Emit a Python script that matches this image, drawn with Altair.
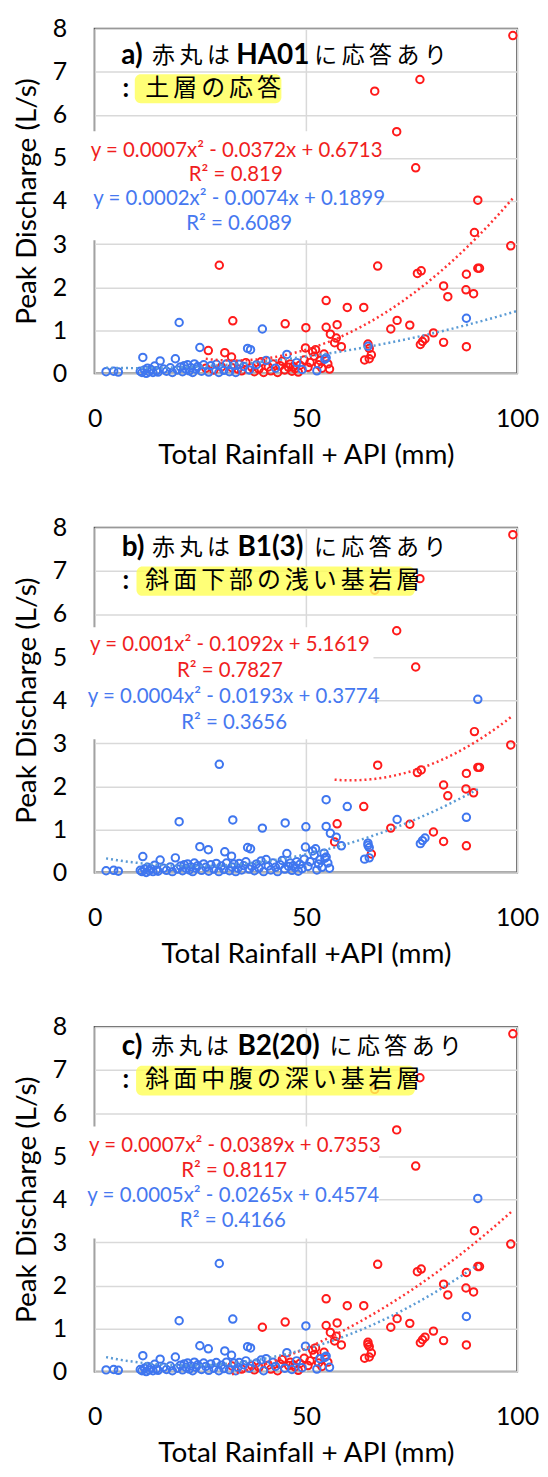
import altair as alt
import pandas as pd

# ---------------- data ----------------
X = [29.5, 32.7, 20.0, 39.7, 45.1, 50.0, 54.8, 54.8, 55.8, 57.4, 57.2, 56.8, 58.4, 59.8, 63.7, 67.0,
     64.7, 64.7, 65.0, 65.5, 63.9, 65.0, 70.1, 71.6, 74.6, 76.4, 77.3, 77.1, 77.6, 78.2, 80.2, 82.6,
     83.6, 82.6, 88.0, 87.9, 89.7, 90.7, 91.1, 88.0, 88.0, 89.9, 98.5, 99.0, 77.0, 66.3, 71.5, 76.0, 90.7,
     2.7, 4.5, 5.6, 10.8, 11.2, 11.4, 11.8, 12.2, 12.5, 12.9, 13.3, 13.8, 14.2, 14.6, 15.0, 15.5, 16.3,
     17.0, 17.9, 18.4, 19.1, 19.6, 20.3, 20.8, 21.2, 21.6, 22.0, 22.4, 22.8, 23.2, 23.6, 24.0, 24.4, 24.9,
     25.3, 25.8, 26.3, 26.9, 27.0, 27.5, 28.2, 28.8, 29.4, 30.0, 30.6, 30.8, 31.2, 31.9, 32.4, 32.5, 33.0,
     33.4, 33.9, 34.2, 34.8, 35.3, 35.8, 36.2, 36.9, 36.6, 37.2, 37.8, 38.3, 38.9, 39.4, 40.0, 40.6, 41.1,
     41.7, 42.2, 42.8, 43.3, 43.9, 44.4, 45.0, 45.5, 45.9, 46.3, 46.7, 47.0, 47.4, 47.8, 48.2, 48.6, 49.1,
     49.6, 49.9, 50.5, 51.0, 51.6, 52.0, 52.3, 52.6, 53.0, 53.3, 53.8, 54.3, 54.5, 54.8, 55.2, 55.6]
Y = [2.51, 1.22, 1.18, 1.03, 1.15, 1.06, 1.69, 1.07, 0.91, 1.13, 0.82, 0.71, 0.62, 1.53, 1.53, 2.49,
     0.68, 0.63, 0.58, 0.43, 0.31, 0.34, 1.03, 1.23, 1.12, 2.32, 2.38, 0.67, 0.74, 0.80, 0.94, 2.03,
     1.78, 0.72, 2.30, 1.94, 1.85, 2.44, 2.44, 0.62, 1.28, 3.27, 2.96, 7.84, 6.82, 6.55, 5.61, 4.77, 4.02,
     0.04, 0.05, 0.03, 0.05, 0.02, 0.37, 0.08, 0.00, 0.12, 0.04, 0.09, 0.02, 0.17, 0.06, 0.03, 0.29, 0.10,
     0.05, 0.13, 0.02, 0.34, 0.08, 0.15, 0.04, 0.18, 0.10, 0.20, 0.06, 0.13, 0.02, 0.22, 0.10, 0.16, 0.60,
     0.05, 0.20, 0.12, 0.53, 0.03, 0.18, 0.08, 0.21, 0.02, 0.15, 0.07, 0.48, 0.22, 0.04, 0.38, 0.13, 0.20,
     0.02, 0.10, 0.21, 0.06, 0.16, 0.25, 0.58, 0.55, 0.08, 0.14, 0.04, 0.20, 0.10, 0.27, 0.02, 0.30, 0.15,
     0.06, 0.22, 0.12, 0.02, 0.18, 0.28, 0.08, 0.44, 0.14, 0.22, 0.05, 0.16, 0.11, 0.25, 0.03, 0.19, 0.09,
     0.31, 0.59, 0.14, 0.25, 0.50, 0.40, 0.55, 0.06, 0.20, 0.30, 0.12, 0.45, 0.33, 0.36, 0.22, 0.10]
# r = red circle (responds at the sensor), b = blue circle; one letter per point above
CLS_A = list("rrbbrrrrrr" "rrrrrrrbrr" "rrrrrrrrrr" "rrrrrrrrrr" "brrrrrrrr"
             + "b" * 34 +
             "bbrrbbrbbr" "brbbrrbbrb" "rbrbbbrrbr" "rrbrrrbrrr" "rbrrrrrbrr" "brrrrrrrbr" "rrrbbrr")
CLS_B = list("bbbbbbbbbr" "brbbrrbbbr" "bbrbrrrbbb" "rrrrrrrrrr" "brrrrrrrb"
             + "b" * 34 + "b" * 67)
CLS_C = list("bbbrrbrrrr" "rrrrrrrrrr" "rrrrrrrrrr" "rrrrrrrrrr" "brrrrrrrb"
             + "b" * 34 +
             "bbbbbbbbbb" "bbbbbrbbbb" "rbbbbbrrbr" "bbbrrbbrrr" "bbrrbrrbrr" "brbrrrrrbr" "brrbbrb")
assert len(X) == len(Y) == len(CLS_A) == len(CLS_B) == len(CLS_C)

TITLE_A = [("a)", "bold"), ("赤丸は", "cjk"), ("HA01", "bold"), ("に応答あり", "cjk")]
TITLE_B = [("b)", "bold"), ("赤丸は", "cjk"), ("B1(3)", "bold"), ("に応答あり", "cjk")]
TITLE_C = [("c)", "bold"), ("赤丸は", "cjk"), ("B2(20)", "bold"), ("に応答あり", "cjk")]
SUB = ["土層の応答", "斜面下部の浅い基岩層", "斜面中腹の深い基岩層"]
EQ_RED = ["y = 0.0007x² - 0.0372x + 0.6713", "y = 0.001x² - 0.1092x + 5.1619", "y = 0.0007x² - 0.0389x + 0.7353"]
R2_RED = ["R² = 0.819", "R² = 0.7827", "R² = 0.8117"]
EQ_BLUE = ["y = 0.0002x² - 0.0074x + 0.1899", "y = 0.0004x² - 0.0193x + 0.3774", "y = 0.0005x² - 0.0265x + 0.4574"]
R2_BLUE = ["R² = 0.6089", "R² = 0.3656", "R² = 0.4166"]
XTITLES = ["Total Rainfall + API (mm)", "Total Rainfall +API (mm)", "Total Rainfall + API (mm)"]
X_TICKS = [0, 50, 100]
Y_TICKS = [0, 1, 2, 3, 4, 5, 6, 7, 8]

# ---------------- layout / style ----------------
FONT = "Lato"
CJK = "Noto Sans CJK JP"
RED = "#ff1a1a"
BLUE = "#3f76ef"
RED_T = "#ff3333"
BLUE_T = "#5b9bd5"
RED_TXT = "#f01e1e"
BLUE_TXT = "#4678f0"
W, H = 424, 346
PXU = W / 100.0            # pixels per x unit
TITLE_ADV = 27.5 / PXU     # spaced CJK characters (title line)
SUB_ADV = 28.0 / PXU       # spaced CJK characters (highlighted line)

LAYOUT = [
    dict(seg_x=[6.3, 13.6, 33.5, 52.0], t_y=7.37, s_y=6.6, hl=(9.5, 44.2, 6.27, 6.94),
         box=(-0.7, 67.5, 3.09, 5.62), eq=[(33.6, 5.17), (33.4, 4.6), (34.2, 4.05), (34.2, 3.46)], bext=100),
    dict(seg_x=[6.4, 13.6, 33.8, 51.9], t_y=7.54, s_y=6.77, hl=(9.9, 75.8, 6.42, 7.1),
         box=(-0.7, 66.0, 3.09, 5.69), eq=[(32.0, 5.27), (32.0, 4.67), (32.9, 4.08), (33.0, 3.46)], bext=None),
    dict(seg_x=[6.4, 13.4, 33.8, 55.6], t_y=7.54, s_y=6.77, hl=(9.8, 75.8, 6.41, 7.1),
         box=(-0.7, 67.3, 3.09, 5.69), eq=[(33.2, 5.23), (33.0, 4.65), (32.8, 4.08), (32.7, 3.5)], bext=None),
]


def spaced(text, x0, y, adv):
    return pd.DataFrame({"x": [x0 + k * adv for k in range(len(text))],
                         "y": [y] * len(text), "t": list(text)})


def panel(i, cls, title):
    L = LAYOUT[i]
    xs = alt.Scale(domain=[0, 100], nice=False, zero=False)
    ys = alt.Scale(domain=[0, 8], nice=False, zero=False)
    xaxis = alt.Axis(values=X_TICKS, title=XTITLES[i], labelFlush=False)
    yaxis = alt.Axis(values=Y_TICKS, title="Peak Discharge (L/s)")

    def xe(f="x"):
        return alt.X(f"{f}:Q", scale=xs, axis=xaxis)

    def ye(f="y"):
        return alt.Y(f"{f}:Q", scale=ys, axis=yaxis)

    df = pd.DataFrame({"x": X, "y": Y, "cls": cls})

    b = L["box"]
    box = alt.Chart(pd.DataFrame({"x": [b[0]], "x2": [b[1]], "y": [b[2]], "y2": [b[3]]})).mark_rect(
        fill="white").encode(x=xe(), x2="x2:Q", y=ye(), y2="y2:Q")

    pts = alt.Chart(df).mark_point(filled=False, size=56, strokeWidth=2, opacity=1).encode(
        x=xe(), y=ye(),
        color=alt.condition(alt.datum.cls == "r", alt.value(RED), alt.value(BLUE)),
        order=alt.Order("cls:N", sort="descending"))

    rx = [x for x, c in zip(X, cls) if c == "r"]
    bx = [x for x, c in zip(X, cls) if c == "b"]
    bhi = L["bext"] if L["bext"] else max(bx)
    tr_r = alt.Chart(df).transform_filter(alt.datum.cls == "r").transform_regression(
        "x", "y", method="poly", order=2, extent=[min(rx), max(rx)]).mark_line(
        color=RED_T, strokeDash=[2, 3], strokeWidth=2.5).encode(x=xe(), y=ye())
    tr_b = alt.Chart(df).transform_filter(alt.datum.cls == "b").transform_regression(
        "x", "y", method="poly", order=2, extent=[min(bx), bhi]).mark_line(
        color=BLUE_T, strokeDash=[2, 3], strokeWidth=2.5).encode(x=xe(), y=ye())

    h = L["hl"]
    hl = alt.Chart(pd.DataFrame({"x": [h[0]], "x2": [h[1]], "y": [h[2]], "y2": [h[3]]})).mark_rect(
        fill="#ffff55", opacity=0.8, cornerRadius=6).encode(x=xe(), x2="x2:Q", y=ye(), y2="y2:Q")

    layers = [box, pts, tr_r, tr_b, hl]
    for (txt, kind), sx in zip(title, L["seg_x"]):
        if kind == "bold":
            tdf = pd.DataFrame({"x": [sx], "y": [L["t_y"]], "t": [txt]})
            m = alt.Chart(tdf).mark_text(align="left", baseline="middle", font=FONT, fontSize=28,
                                         fontWeight="bold", color="black")
        else:
            m = alt.Chart(spaced(txt, sx, L["t_y"], TITLE_ADV)).mark_text(
                align="left", baseline="middle", font=CJK, fontSize=23, color="black")
        layers.append(m.encode(x=xe(), y=ye(), text="t:N"))
    colon = pd.DataFrame({"x": [7.4], "y": [L["s_y"]], "t": [":"]})
    layers.append(alt.Chart(colon).mark_text(align="center", baseline="middle", font=FONT, fontSize=26,
                                             fontWeight="bold", color="black").encode(x=xe(), y=ye(), text="t:N"))
    layers.append(alt.Chart(spaced(SUB[i], 12.0, L["s_y"], SUB_ADV)).mark_text(
        align="left", baseline="middle", font=CJK, fontSize=24, color="black").encode(
        x=xe(), y=ye(), text="t:N"))
    texts = [EQ_RED[i], R2_RED[i], EQ_BLUE[i], R2_BLUE[i]]
    cols = [RED_TXT, RED_TXT, BLUE_TXT, BLUE_TXT]
    for t, c, (ex, ey) in zip(texts, cols, L["eq"]):
        edf = pd.DataFrame({"x": [ex], "y": [ey], "t": [t]})
        layers.append(alt.Chart(edf).mark_text(align="center", baseline="middle", font=FONT, fontSize=20.5,
                                               color=c).encode(x=xe(), y=ye(), text="t:N"))
    return alt.layer(*layers).properties(width=W, height=H)


chart = alt.vconcat(
    panel(0, CLS_A, TITLE_A),
    panel(1, CLS_B, TITLE_B),
    panel(2, CLS_C, TITLE_C),
    spacing=45,
).properties(
    padding={"left": 4, "right": 0, "top": 5, "bottom": 0}
).configure_view(stroke="#595959", strokeWidth=2).configure_axis(
    labelFont=FONT, labelFontSize=25, labelColor="black",
    titleFont=FONT, titleFontSize=28, titleFontWeight="normal", titleColor="black",
    grid=True, gridColor="#d9d9d9", gridWidth=1.5, ticks=False, domain=False,
).configure_axisX(labelPadding=33, titlePadding=10).configure_axisY(labelPadding=28, titlePadding=11)

chart.save("out.html", embed_options={"renderer": "svg", "actions": False})
